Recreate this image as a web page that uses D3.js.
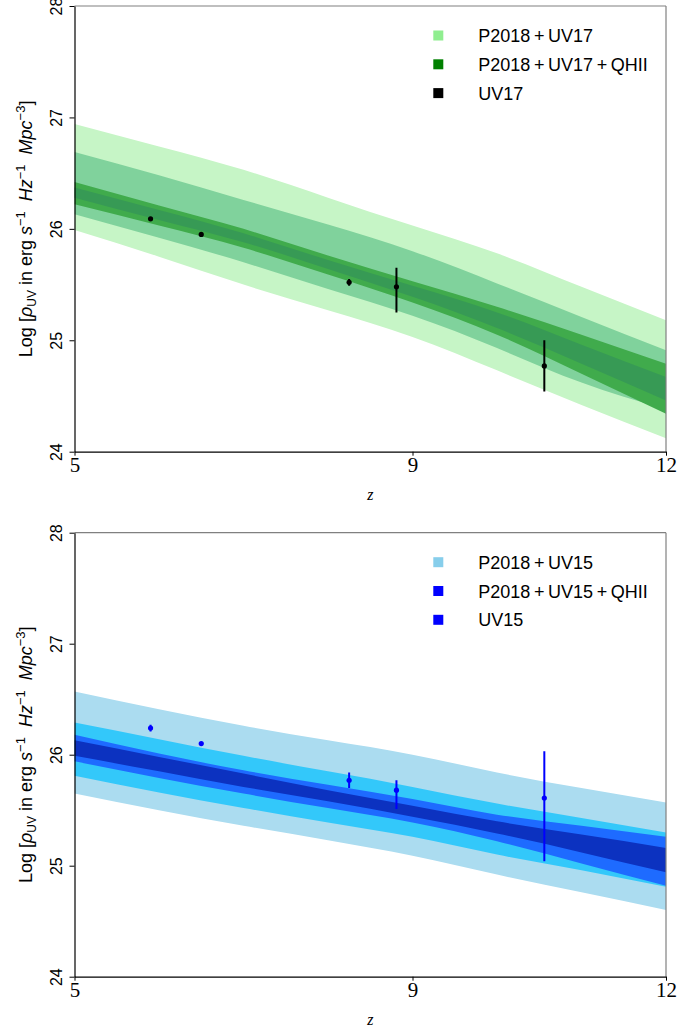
<!DOCTYPE html>
<html>
<head>
<meta charset="utf-8">
<script src="https://cdn.jsdelivr.net/npm/d3@7"></script>
<style>
	body { margin: 0; background: #fff; }
</style>
</head>
<body>
<div id="chart-area"></div>
<script>
// *********************
// Data
// *********************

// redshift grid of the bands
const zGrid = [5, 6, 7, 8, 9, 10, 11, 12];

// Top panel - P2018+UV17 (outer / inner)
const uv17OuterHigh = [26.94, 26.74, 26.53, 26.28, 26.03, 25.78, 25.48, 25.18];
const uv17OuterLow  = [25.99, 25.75, 25.50, 25.27, 25.03, 24.73, 24.42, 24.12];
const uv17InnerHigh = [26.69, 26.48, 26.26, 26.04, 25.80, 25.51, 25.21, 24.91];
const uv17InnerLow  = [26.13, 25.92, 25.70, 25.46, 25.22, 24.93, 24.62, 24.38];
// Top panel - P2018+UV17+QHII
const qhii17OuterHigh = [26.42, 26.21, 26.00, 25.76, 25.53, 25.30, 25.05, 24.79];
const qhii17OuterLow  = [26.22, 26.03, 25.83, 25.59, 25.34, 25.05, 24.70, 24.34];
const qhii17InnerHigh = [26.37, 26.17, 25.96, 25.72, 25.49, 25.25, 24.96, 24.67];
const qhii17InnerLow  = [26.28, 26.08, 25.88, 25.64, 25.39, 25.11, 24.79, 24.46];

// Bottom panel - P2018+UV15
const uv15OuterHigh = [26.57, 26.41, 26.26, 26.13, 26.00, 25.84, 25.70, 25.57];
const uv15OuterLow  = [25.65, 25.50, 25.36, 25.23, 25.09, 24.92, 24.76, 24.60];
const uv15InnerHigh = [26.29, 26.14, 25.99, 25.85, 25.71, 25.56, 25.43, 25.30];
const uv15InnerLow  = [25.81, 25.66, 25.52, 25.39, 25.26, 25.10, 24.96, 24.81];
// Bottom panel - P2018+UV15+QHII
const qhii15OuterHigh = [26.18, 26.01, 25.86, 25.73, 25.60, 25.46, 25.36, 25.26];
const qhii15OuterLow  = [25.94, 25.79, 25.65, 25.52, 25.39, 25.22, 25.02, 24.82];
const qhii15InnerHigh = [26.13, 25.98, 25.83, 25.68, 25.54, 25.40, 25.28, 25.16];
const qhii15InnerLow  = [25.99, 25.85, 25.71, 25.58, 25.44, 25.29, 25.12, 24.94];

// Observed points
const obsZ = [5.90, 6.50, 8.25, 8.81, 10.56];
const uv17Val     = [26.09, 25.95, 25.52, 25.48, 24.77];
const uv17ErrUp   = [0.01, 0.01, 0.03, 0.17, 0.23];
const uv17ErrDown = [0.01, 0.01, 0.03, 0.23, 0.23];
const uv15Val     = [26.24, 26.10, 25.77, 25.68, 25.61];
const uv15ErrUp   = [0.03, 0.01, 0.07, 0.09, 0.42];
const uv15ErrDown = [0.03, 0.01, 0.07, 0.17, 0.57];

// Ticks and legend
const xTicks = [5, 9, 12];
const yTicks = [24, 25, 26, 27, 28];
const legendTop = ["P2018\u2009+\u2009UV17", "P2018\u2009+\u2009UV17\u2009+\u2009QHII", "UV17"];
const legendBottom = ["P2018\u2009+\u2009UV15", "P2018\u2009+\u2009UV15\u2009+\u2009QHII", "UV15"];

// *********************
// Basic setup SVG
// *********************

const width = 699;
const height = 1036;
const plotLeft = 74.5;
const plotRight = 666;
const sans = "'Liberation Sans', Arial, sans-serif";
const serif = "'Liberation Serif', 'DejaVu Serif', serif";

const svg = d3.select("#chart-area")
	.append("svg")
	.attr("width", width)
	.attr("height", height);

svg.append("rect")
	.attr("width", "100%")
	.attr("height", "100%")
	.attr("fill", "white");

const panels = [
	{
		top: 6, bottom: 451.7,
		bands: [
			{lo: uv17OuterLow, hi: uv17OuterHigh, color: "#c6f5c6"},
			{lo: uv17InnerLow, hi: uv17InnerHigh, color: "#80d29c"},
			{lo: qhii17OuterLow, hi: qhii17OuterHigh, color: "#40ab4c"},
			{lo: qhii17InnerLow, hi: qhii17InnerHigh, color: "#379a55"}
		],
		val: uv17Val, up: uv17ErrUp, down: uv17ErrDown, pointColor: "black",
		legend: legendTop, legendColors: ["#90ee90", "#008000", "#000000"]
	},
	{
		top: 532.7, bottom: 976.7,
		bands: [
			{lo: uv15OuterLow, hi: uv15OuterHigh, color: "#abdcf0"},
			{lo: uv15InnerLow, hi: uv15InnerHigh, color: "#33c8fa"},
			{lo: qhii15OuterLow, hi: qhii15OuterHigh, color: "#1e6bff"},
			{lo: qhii15InnerLow, hi: qhii15InnerHigh, color: "#0c32c0"}
		],
		val: uv15Val, up: uv15ErrUp, down: uv15ErrDown, pointColor: "#0000ff",
		legend: legendBottom, legendColors: ["#87ceeb", "#0000ff", "#0000ff"]
	}
];

panels.forEach((p, pi) => drawPanel(p, pi));

// *********************
// Panel drawing
// *********************

function drawPanel(p, pi) {
	const w = plotRight - plotLeft;
	const h = p.bottom - p.top;

	const g = svg.append("g")
		.attr("transform", "translate(" + plotLeft + "," + p.top + ")");

	const x = d3.scaleLinear().domain([5, 12]).range([0, w]);
	const y = d3.scaleLinear().domain([24, 28]).range([h, 0]);

	// clip
	g.append("clipPath")
		.attr("id", "clip" + pi)
		.append("rect")
		.attr("width", w)
		.attr("height", h);

	const plot = g.append("g").attr("clip-path", "url(#clip" + pi + ")");

	// bands
	const area = d3.area()
		.x(d => x(d.z))
		.y0(d => y(d.lo))
		.y1(d => y(d.hi))
		.curve(d3.curveNatural);

	p.bands.forEach(b => {
		const rows = zGrid.map((z, i) => ({z: z, lo: b.lo[i], hi: b.hi[i]}));
		plot.append("path")
			.datum(rows)
			.attr("d", area)
			.attr("fill", b.color);
	});

	// error bars + points
	const pts = obsZ.map((z, i) => ({z: z, v: p.val[i], up: p.up[i], down: p.down[i]}));

	plot.selectAll(".err")
		.data(pts)
		.enter()
		.append("line")
		.attr("x1", d => x(d.z))
		.attr("x2", d => x(d.z))
		.attr("y1", d => y(d.v + d.up))
		.attr("y2", d => y(d.v - d.down))
		.attr("stroke", p.pointColor)
		.attr("stroke-width", 2);

	plot.selectAll(".pt")
		.data(pts)
		.enter()
		.append("circle")
		.attr("cx", d => x(d.z))
		.attr("cy", d => y(d.v))
		.attr("r", 2.6)
		.attr("fill", p.pointColor);

	// spines (top/right grey, left/bottom black)
	g.append("line").attr("x1", 0).attr("x2", w).attr("y1", 0).attr("y2", 0)
		.attr("stroke", "#808080").attr("stroke-width", 1.2);
	g.append("line").attr("x1", w).attr("x2", w).attr("y1", 0).attr("y2", h)
		.attr("stroke", "#808080").attr("stroke-width", 1.2);

	// X axis
	const xAxis = d3.axisBottom(x)
		.tickValues(xTicks)
		.tickSize(4)
		.tickSizeOuter(0)
		.tickFormat(d3.format("d"));

	const xg = g.append("g")
		.attr("transform", "translate(0," + h + ")")
		.call(xAxis);
	xg.select(".domain").attr("stroke", "black").attr("stroke-width", 1.2);
	xg.selectAll("text")
		.attr("font-family", serif)
		.attr("font-size", "21px")
		.attr("fill", "black")
		.attr("y", 4)
		.attr("dy", "0.78em");

	// Y axis
	const yAxis = d3.axisLeft(y)
		.tickValues(yTicks)
		.tickSize(5)
		.tickSizeOuter(0)
		.tickFormat(d3.format("d"));

	const yg = g.append("g").call(yAxis);
	yg.select(".domain").attr("stroke", "black").attr("stroke-width", 1.2);
	yg.selectAll("text")
		.attr("font-family", sans)
		.attr("font-size", "16px")
		.attr("fill", "black")
		.attr("x", null)
		.attr("dy", null)
		.attr("text-anchor", "middle")
		.attr("transform", "translate(-13,0) rotate(-90)");

	// X label
	g.append("text")
		.attr("x", w / 2)
		.attr("y", h + 48)
		.attr("text-anchor", "middle")
		.attr("font-family", serif)
		.attr("font-style", "italic")
		.attr("font-size", "16px")
		.text("z");

	// Y label
	const yl = g.append("text")
		.attr("transform", "translate(-43," + (h / 2) + ") rotate(-90)")
		.attr("text-anchor", "middle")
		.attr("font-family", sans)
		.attr("font-size", "18px")
		.attr("fill", "black");

	const parts = [
		{s: "Log [", dy: 0},
		{s: "\u03C1", dy: 0, it: true},
		{s: "UV", dy: 4, size: 12},
		{s: " in erg ", dy: -4},
		{s: "s", dy: 0, it: true},
		{s: "\u22121", dy: -7, size: 13},
		{s: "  ", dy: 7},
		{s: "Hz", dy: 0, it: true},
		{s: "\u22121", dy: -7, size: 13},
		{s: "  ", dy: 7},
		{s: "Mpc", dy: 0, it: true},
		{s: "\u22123", dy: -7, size: 13},
		{s: "]", dy: 7}
	];
	parts.forEach(pt => {
		const t = yl.append("tspan").attr("dy", pt.dy).text(pt.s);
		if (pt.it) t.attr("font-style", "italic");
		if (pt.size) t.attr("font-size", pt.size + "px");
	});
	yl.style("white-space", "pre");

	// Legend
	const legend = g.append("g");
	p.legend.forEach((name, i) => {
		const row = legend.append("g")
			.attr("transform", "translate(" + (433.3 - plotLeft) + "," + (29.5 + i * 28.8) + ")");
		row.append("rect")
			.attr("x", 0)
			.attr("y", -5)
			.attr("width", 10)
			.attr("height", 10)
			.attr("fill", p.legendColors[i]);
		row.append("text")
			.attr("x", 45)
			.attr("y", 6.5)
			.attr("font-family", sans)
			.attr("font-size", "18px")
			.attr("fill", "black")
			.text(name);
	});
}
</script>
</body>
</html>
